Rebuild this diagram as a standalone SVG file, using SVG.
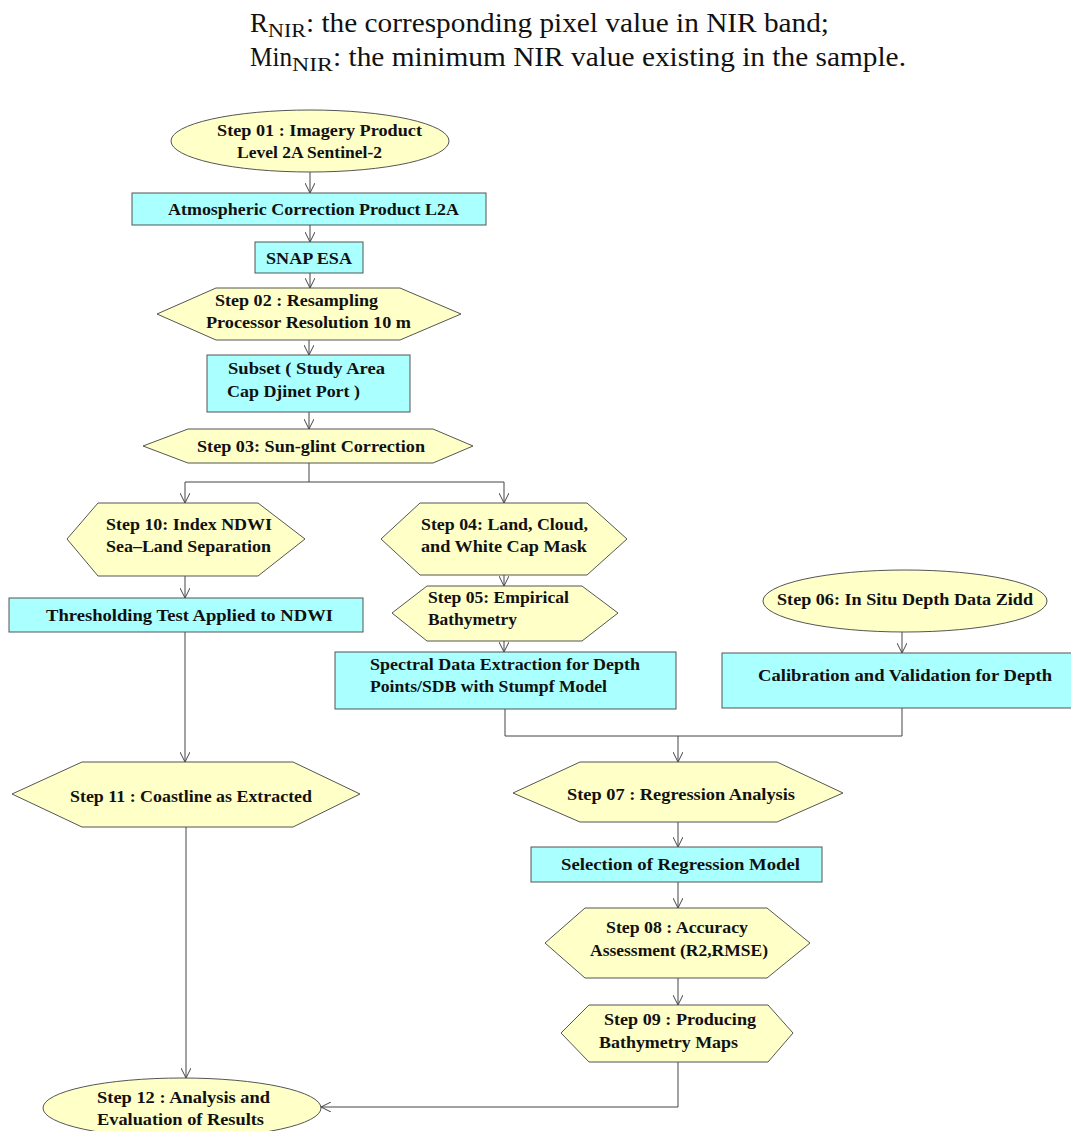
<svg xmlns="http://www.w3.org/2000/svg" width="1071" height="1131" viewBox="0 0 1071 1131">
<defs>
<style>
.hdr{font-family:"Liberation Serif","DejaVu Serif",serif;font-size:27px;fill:#111}
.sub{font-family:"Liberation Serif","DejaVu Serif",serif;font-size:19px;fill:#111}
.lbl{font-family:"Liberation Serif","DejaVu Serif",serif;font-size:17.5px;font-weight:bold;fill:#111}
.y{fill:#FFFFC8;stroke:#555;stroke-width:1}
.c{fill:#AAFFFF;stroke:#555;stroke-width:1}
.ln{fill:none;stroke:#444;stroke-width:1}
</style>
<marker id="ah" viewBox="0 0 10 10" refX="10" refY="5" markerWidth="10" markerHeight="10" markerUnits="userSpaceOnUse" orient="auto">
<path d="M0,0 L10,5 L0,10" fill="none" stroke="#444" stroke-width="1"/>
</marker>
</defs>
<rect width="1071" height="1131" fill="#fff"/>

<g id="header">
<text class="hdr" x="250" y="32">R</text>
<text class="sub" x="268" y="37" textLength="38" lengthAdjust="spacingAndGlyphs">NIR</text>
<text class="hdr" x="306" y="32" textLength="523" lengthAdjust="spacingAndGlyphs">: the corresponding pixel value in NIR band;</text>
<text class="hdr" x="250" y="66" textLength="42" lengthAdjust="spacingAndGlyphs">Min</text>
<text class="sub" x="292" y="71" textLength="41" lengthAdjust="spacingAndGlyphs">NIR</text>
<text class="hdr" x="333" y="66" textLength="573" lengthAdjust="spacingAndGlyphs">: the minimum NIR value existing in the sample.</text>
</g>

<g id="connectors">
<line class="ln" x1="310" y1="172" x2="310" y2="193" marker-end="url(#ah)"/>
<line class="ln" x1="310" y1="225" x2="310" y2="242" marker-end="url(#ah)"/>
<line class="ln" x1="310" y1="273" x2="310" y2="288" marker-end="url(#ah)"/>
<line class="ln" x1="309" y1="340" x2="309" y2="355" marker-end="url(#ah)"/>
<line class="ln" x1="309" y1="412" x2="309" y2="429" marker-end="url(#ah)"/>
<polyline class="ln" points="309,463 309,482"/>
<line class="ln" x1="185" y1="482" x2="504" y2="482"/>
<line class="ln" x1="185" y1="482" x2="185" y2="503" marker-end="url(#ah)"/>
<line class="ln" x1="504" y1="482" x2="504" y2="503" marker-end="url(#ah)"/>
<line class="ln" x1="185" y1="576" x2="185" y2="598" marker-end="url(#ah)"/>
<line class="ln" x1="185" y1="632" x2="185" y2="762" marker-end="url(#ah)"/>
<line class="ln" x1="186" y1="827" x2="186" y2="1078" marker-end="url(#ah)"/>
<line class="ln" x1="504" y1="575" x2="504" y2="586" marker-end="url(#ah)"/>
<line class="ln" x1="504" y1="641" x2="504" y2="652" marker-end="url(#ah)"/>
<line class="ln" x1="902" y1="632" x2="902" y2="653" marker-end="url(#ah)"/>
<polyline class="ln" points="505,709 505,736 902,736 902,708"/>
<line class="ln" x1="678" y1="736" x2="678" y2="762" marker-end="url(#ah)"/>
<line class="ln" x1="678" y1="822" x2="678" y2="847" marker-end="url(#ah)"/>
<line class="ln" x1="678" y1="882" x2="678" y2="908" marker-end="url(#ah)"/>
<line class="ln" x1="678" y1="978" x2="678" y2="1005" marker-end="url(#ah)"/>
<polyline class="ln" points="678,1062 678,1107 321,1107" marker-end="url(#ah)"/>
</g>

<g id="step01">
<ellipse class="y" cx="310" cy="141" rx="139" ry="31"/>
<text class="lbl" x="217" y="136" textLength="205" lengthAdjust="spacingAndGlyphs">Step 01 :  Imagery Product</text>
<text class="lbl" x="237" y="158" textLength="145" lengthAdjust="spacingAndGlyphs">Level 2A Sentinel-2</text>
</g>

<g id="atmospheric">
<rect class="c" x="132" y="193" width="354" height="32"/>
<text class="lbl" x="168" y="215" textLength="291" lengthAdjust="spacingAndGlyphs">Atmospheric Correction Product L2A</text>
</g>

<g id="snap">
<rect class="c" x="255" y="242" width="108" height="31"/>
<text class="lbl" x="266" y="264" textLength="86" lengthAdjust="spacingAndGlyphs">SNAP ESA</text>
</g>

<g id="step02">
<polygon class="y" points="157,314 216,288 400,288 461,314 400,340 216,340"/>
<text class="lbl" x="215" y="306" textLength="163" lengthAdjust="spacingAndGlyphs">Step 02 : Resampling</text>
<text class="lbl" x="206" y="328" textLength="205" lengthAdjust="spacingAndGlyphs">Processor Resolution 10 m</text>
</g>

<g id="subset">
<rect class="c" x="207" y="355" width="203" height="57"/>
<text class="lbl" x="228" y="374" textLength="157" lengthAdjust="spacingAndGlyphs">Subset ( Study Area</text>
<text class="lbl" x="227" y="397" textLength="133" lengthAdjust="spacingAndGlyphs">Cap Djinet Port )</text>
</g>

<g id="step03">
<polygon class="y" points="143,446 188,429 433,429 473,446 433,463 188,463"/>
<text class="lbl" x="197" y="452" textLength="228" lengthAdjust="spacingAndGlyphs">Step 03: Sun-glint Correction</text>
</g>

<g id="step10">
<polygon class="y" points="67,539 98,503 258,503 305,539 258,576 98,576"/>
<text class="lbl" x="106" y="530" textLength="166" lengthAdjust="spacingAndGlyphs">Step 10: Index NDWI</text>
<text class="lbl" x="106" y="552" textLength="165" lengthAdjust="spacingAndGlyphs">Sea–Land Separation</text>
</g>

<g id="thresholding">
<rect class="c" x="9" y="598" width="354" height="34"/>
<text class="lbl" x="46" y="621" textLength="287" lengthAdjust="spacingAndGlyphs">Thresholding Test Applied to NDWI</text>
</g>

<g id="step11">
<polygon class="y" points="12,794 82,762 293,762 360,794 293,827 82,827"/>
<text class="lbl" x="70" y="802" textLength="242" lengthAdjust="spacingAndGlyphs">Step 11 : Coastline as Extracted</text>
</g>

<g id="step12">
<ellipse class="y" cx="182" cy="1108" rx="139" ry="30"/>
<text class="lbl" x="97" y="1103" textLength="173" lengthAdjust="spacingAndGlyphs">Step 12 : Analysis and</text>
<text class="lbl" x="97" y="1125" textLength="167" lengthAdjust="spacingAndGlyphs">Evaluation of Results</text>
</g>

<g id="step04">
<polygon class="y" points="381,539 420,503 587,503 627,539 587,575 420,575"/>
<text class="lbl" x="421" y="530" textLength="167" lengthAdjust="spacingAndGlyphs">Step 04: Land, Cloud,</text>
<text class="lbl" x="421" y="552" textLength="166" lengthAdjust="spacingAndGlyphs">and White Cap Mask</text>
</g>

<g id="step05">
<polygon class="y" points="392,613 427,586 582,586 618,613 582,641 427,641"/>
<text class="lbl" x="428" y="603" textLength="141" lengthAdjust="spacingAndGlyphs">Step 05: Empirical</text>
<text class="lbl" x="428" y="625" textLength="89" lengthAdjust="spacingAndGlyphs">Bathymetry</text>
</g>

<g id="spectral">
<rect class="c" x="335" y="652" width="341" height="57"/>
<text class="lbl" x="370" y="670" textLength="270" lengthAdjust="spacingAndGlyphs">Spectral Data Extraction for Depth</text>
<text class="lbl" x="370" y="692" textLength="237" lengthAdjust="spacingAndGlyphs">Points/SDB with Stumpf Model</text>
</g>

<g id="step06">
<ellipse class="y" cx="905" cy="601" rx="142" ry="31"/>
<text class="lbl" x="777" y="605" textLength="256" lengthAdjust="spacingAndGlyphs">Step 06: In Situ Depth Data Zidd</text>
</g>

<g id="calibration">
<rect class="c" x="722" y="653" width="352" height="55"/>
<text class="lbl" x="758" y="681" textLength="294" lengthAdjust="spacingAndGlyphs">Calibration and Validation for Depth</text>
</g>

<g id="step07">
<polygon class="y" points="513,793 580,762 777,762 843,793 777,822 580,822"/>
<text class="lbl" x="567" y="800" textLength="228" lengthAdjust="spacingAndGlyphs">Step 07 : Regression Analysis</text>
</g>

<g id="selection">
<rect class="c" x="531" y="847" width="291" height="35"/>
<text class="lbl" x="561" y="870" textLength="239" lengthAdjust="spacingAndGlyphs">Selection of Regression Model</text>
</g>

<g id="step08">
<polygon class="y" points="545,943 585,908 767,908 810,943 767,978 585,978"/>
<text class="lbl" x="606" y="933" textLength="142" lengthAdjust="spacingAndGlyphs">Step 08 : Accuracy</text>
<text class="lbl" x="590" y="956" textLength="178" lengthAdjust="spacingAndGlyphs">Assessment (R2,RMSE)</text>
</g>

<g id="step09">
<polygon class="y" points="561,1033 589,1005 768,1005 793,1033 768,1062 589,1062"/>
<text class="lbl" x="604" y="1025" textLength="152" lengthAdjust="spacingAndGlyphs">Step 09 : Producing</text>
<text class="lbl" x="599" y="1048" textLength="139" lengthAdjust="spacingAndGlyphs">Bathymetry Maps</text>
</g>
</svg>
